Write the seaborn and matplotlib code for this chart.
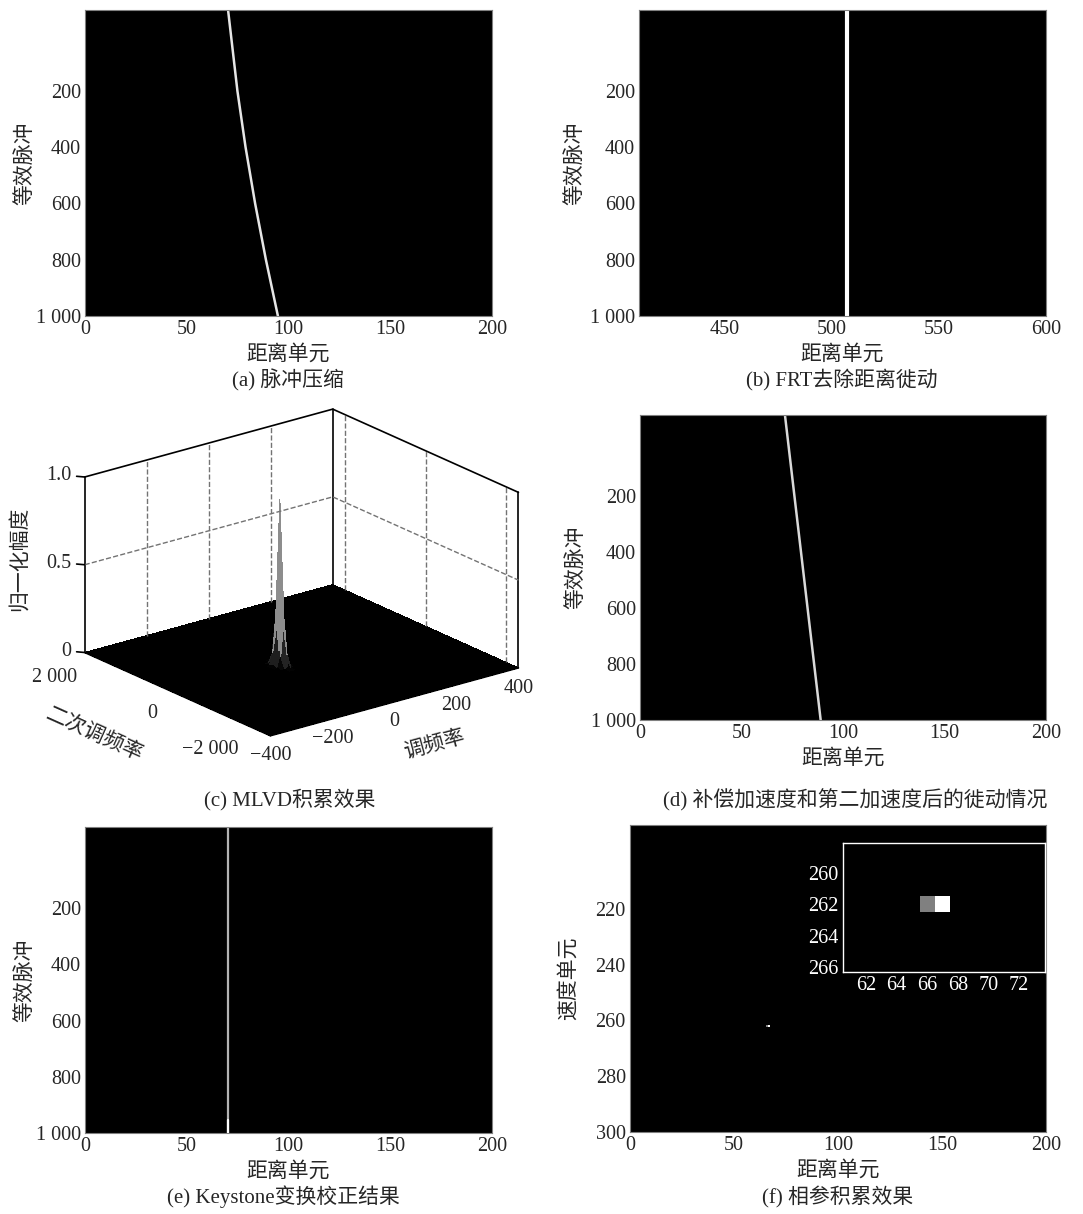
import numpy as np
import matplotlib
matplotlib.use('Agg')
import matplotlib.pyplot as plt
import seaborn as sns

sns.set_theme(style='white')
plt.rcParams['font.family'] = ['Liberation Serif', 'Noto Sans CJK SC']
plt.rcParams['axes.unicode_minus'] = True
plt.rcParams['axes3d.automargin'] = False

# ---- data ----
pulse_ticks = [200, 400, 600, 800, 1000]
pulse_labels = ['200', '400', '600', '800', '1 000']
pulse_top = -88
range_ticks = [0, 50, 100, 150, 200]

# (a) 脉冲压缩: curved range walk
a_pulse = [-88, 200, 400, 600, 800, 1000]
a_range = [70.3, 74.9, 78.9, 83.6, 88.9, 94.8]

# (b) FRT去除距离徙动
b_pulse = [-88, 1000]
b_range = [507, 507]
b_ticks = [450, 500, 550, 600]

# (d) 补偿加速度后
d_pulse = [-88, 1000]
d_range = [71.4, 89.0]

# (e) Keystone
e_pulse = [-88, 1000]
e_range = [70.4, 70.4]
e_tail_pulse = [955, 1000]
e_tail_range = [70.2, 70.2]

# (f) 相参积累: non-zero cells
f_range = [66, 67]
f_vel = [262, 262]
f_amp = [0.5, 1.0]
f_vel_ticks = [220, 240, 260, 280, 300]

# (c) MLVD surface: peak and its profiles
c_peak_chirp = -70
c_peak_qchirp = 0
c_peak_amp = 0.95
c_profile_chirp = [0.02, 0.25, 1.0, 0.25, 0.02]
c_profile_qchirp = [0.03, 0.3, 1.0, 0.3, 0.03]
chirp_ticks = [-400, -200, 0, 200, 400]
chirp_labels = ['\u2212400', '\u2212200', '0', '200', '400']
qchirp_ticks = [-2000, 0, 2000]
qchirp_labels = ['\u22122 000', '0', '2 000']
amp_ticks = [0, 0.5, 1.0]
amp_labels = ['0', '0.5', '1.0']

W, H = 1083, 1214
TICK_FS = 14.5
LABEL_FS = 15
fig = plt.figure(figsize=(W / 100, H / 100), dpi=100)


def rect(l, t, r, b):
    return [l / W, 1 - b / H, (r - l) / W, (b - t) / H]


def caption(x, y, s):
    fig.text(x / W, 1 - y / H, s, ha='center', va='center', fontsize=LABEL_FS)


def image_axes(box, xlim, xticks, ylabel='等效脉冲', ypad=1):
    ax = fig.add_axes(rect(*box))
    ax.set_facecolor('black')
    ax.set_xlim(*xlim)
    ax.set_ylim(1000, pulse_top)
    ax.set_xticks(xticks)
    ax.set_xticklabels([str(t) for t in xticks])
    ax.set_yticks(pulse_ticks)
    ax.set_yticklabels(pulse_labels)
    ax.tick_params(length=0, labelsize=TICK_FS, pad=3)
    ax.set_xlabel('距离单元', fontsize=LABEL_FS, labelpad=4)
    ax.set_ylabel(ylabel, fontsize=LABEL_FS, labelpad=ypad)
    for s in ax.spines.values():
        s.set_color('0.5')
        s.set_linewidth(0.8)
    return ax


# (a)
ax = image_axes((85, 10, 492, 316), (0, 200), range_ticks, ypad=0)
sns.lineplot(x=a_range, y=a_pulse, orient='y', ax=ax, color='0.9', lw=1.8)
caption(288, 380, '(a) 脉冲压缩')

# (b)
ax = image_axes((639, 10, 1046, 316), (410, 600), b_ticks, ypad=3)
sns.lineplot(x=b_range, y=b_pulse, orient='y', ax=ax, color='white', lw=3)
caption(842, 380, '(b) FRT去除距离徙动')

# (d)
ax = image_axes((640, 415, 1046, 720), (0, 200), range_ticks, ypad=3)
sns.lineplot(x=d_range, y=d_pulse, orient='y', ax=ax, color='0.85', lw=1.8)
caption(855, 800, '(d) 补偿加速度和第二加速度后的徙动情况')

# (e)
ax = image_axes((85, 827, 492, 1133), (0, 200), range_ticks, ypad=0)
sns.lineplot(x=e_range, y=e_pulse, orient='y', ax=ax, color='0.7', lw=1.6)
sns.lineplot(x=e_tail_range, y=e_tail_pulse, orient='y', ax=ax, color='white', lw=1.6)
caption(283, 1197, '(e) Keystone变换校正结果')

# (f)
vel_edges = np.arange(189.5, 301.5, 1.0)
rng_edges = np.arange(-0.5, 201.5, 1.0)
f_img = np.zeros((len(vel_edges) - 1, len(rng_edges) - 1))
for r, v, a in zip(f_range, f_vel, f_amp):
    f_img[int(v - vel_edges[0]), int(r - rng_edges[0])] = a

ax = fig.add_axes(rect(630, 825, 1046, 1132))
ax.set_facecolor('black')
ax.pcolormesh(rng_edges, vel_edges, f_img, cmap='gray', vmin=0, vmax=1)
ax.set_xlim(0, 200)
ax.set_ylim(300, 190)
ax.set_xticks(range_ticks)
ax.set_yticks(f_vel_ticks)
ax.tick_params(length=0, labelsize=TICK_FS, pad=3)
ax.set_xlabel('距离单元', fontsize=LABEL_FS, labelpad=4)
ax.set_ylabel('速度单元', fontsize=LABEL_FS, labelpad=12)
for s in ax.spines.values():
    s.set_color('0.5')
    s.set_linewidth(0.8)

axi = fig.add_axes(rect(843, 843, 1045, 972))
axi.set_facecolor('black')
axi.pcolormesh(rng_edges, vel_edges, f_img, cmap='gray', vmin=0, vmax=1)
axi.set_xlim(60.5, 73.7)
axi.set_ylim(266.3, 258.1)
axi.set_xticks([62, 64, 66, 68, 70, 72])
axi.set_yticks([260, 262, 264, 266])
axi.tick_params(direction='in', length=3, color='white', labelcolor='white',
                labelsize=TICK_FS, pad=3, top=True, right=True, bottom=True, left=True)
for s in axi.spines.values():
    s.set_color('white')
    s.set_linewidth(1.0)
caption(838, 1197, '(f) 相参积累效果')

# (c) 3D surface, box/grid/ticks drawn in data coordinates
chirp_grid = np.arange(-400, 401, 10)
qchirp_grid = np.arange(-2300, 2301, 100)
X, Y = np.meshgrid(chirp_grid, qchirp_grid)
Z = np.zeros_like(X, dtype=float)
ic = int(np.argmin(np.abs(chirp_grid - c_peak_chirp)))
iq = int(np.argmin(np.abs(qchirp_grid - c_peak_qchirp)))
half = len(c_profile_chirp) // 2
patch = c_peak_amp * np.outer(c_profile_qchirp, c_profile_chirp)
Z[iq - half:iq + half + 1, ic - half:ic + half + 1] = patch

x0, x1 = -400, 400
y0, y1 = -2300, 2300
z0, z1 = 0, 1
# square axes so that nothing of the box gets clipped
ax3 = fig.add_axes(rect(14, 300, 574, 860), projection='3d')
ax3.patch.set_visible(False)
ax3.set_proj_type('ortho')
ax3.view_init(elev=20.5, azim=-128)
ax3.set_box_aspect((1.68, 1.61, 1.0), zoom=0.8226)
ax3.set_axis_off()
ax3.plot_surface(X, Y, Z, cmap='gray', vmin=0, vmax=0.7, linewidth=0,
                 antialiased=False, rstride=1, cstride=1, shade=False)

edge_kw = dict(color='black', lw=1.2)
grid_kw = dict(color='0.45', lw=1.0, ls='--')
# box edges
ax3.plot([x0, x0], [y1, y0], [z0, z0], **edge_kw)
ax3.plot([x0, x1], [y0, y0], [z0, z0], **edge_kw)
ax3.plot([x0, x1, x1], [y1, y1, y0], [z1, z1, z1], **edge_kw)
for xe, ye in [(x0, y1), (x1, y1), (x1, y0)]:
    ax3.plot([xe, xe], [ye, ye], [z0, z1], **edge_kw)
# dashed grid on back walls
for t in chirp_ticks[1:-1]:
    ax3.plot([t, t], [y1, y1], [z0, z1], **grid_kw)
for t in qchirp_ticks:
    ax3.plot([x1, x1], [t, t], [z0, z1], **grid_kw)
ax3.plot([x0, x1, x1], [y1, y1, y0], [0.5, 0.5, 0.5], **grid_kw)

# z ticks and labels (left vertical edge)
for t, lab in zip(amp_ticks, amp_labels):
    ax3.plot([x0, x0 - 13], [y1, y1 + 100], [t, t], **edge_kw)
    ax3.text(x0 - 22, y1 + 170, t, lab, fontsize=TICK_FS, ha='right', va='center')
# x tick labels below front-right edge
for t, lab in zip(chirp_ticks, chirp_labels):
    ax3.text(t, y0, -0.115, lab, fontsize=TICK_FS, ha='center', va='center')
# y tick labels left of front-left edge
for t, lab in zip(qchirp_ticks, qchirp_labels):
    ax3.text(x0 - 65, t, -0.08, lab, fontsize=TICK_FS, ha='right', va='center')

ax3.text(128, y0, -0.31, '调频率', zdir=(1, 0, 0), fontsize=LABEL_FS,
         ha='center', va='center')
ax3.text(-610, 460, -0.18, '二次调频率', zdir=(0, -1, 0), fontsize=LABEL_FS,
         ha='center', va='center')
ax3.text(-503, 3090, 0.5, '归一化幅度', zdir=(0, 0, 1), fontsize=LABEL_FS,
         ha='center', va='center')
ax3.set_xlim(x0, x1)
ax3.set_ylim(y0, y1)
ax3.set_zlim(z0, z1)
caption(290, 800, '(c) MLVD积累效果')

fig.savefig('out.png', dpi=100, facecolor='white')
